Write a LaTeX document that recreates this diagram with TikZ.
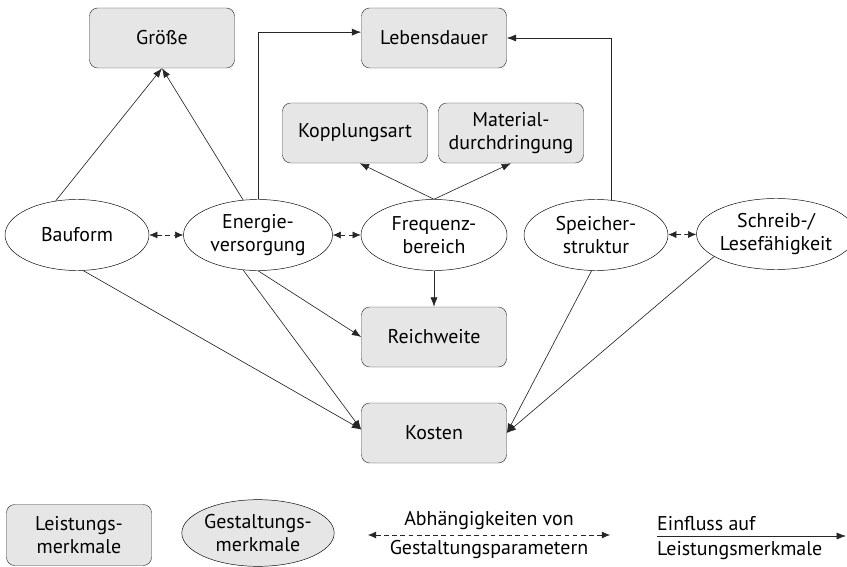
\documentclass[tikz,border=0pt]{standalone}
\usepackage{fontspec}
\setmainfont{PT Sans}
\usetikzlibrary{shapes.geometric,arrows.meta}
\definecolor{boxgray}{HTML}{E6E6E6}
\tikzset{
  merkmal/.style={draw=black!80, fill=boxgray, rounded corners=7pt, minimum width=4.35cm, minimum height=1.8cm, align=center, inner sep=0pt, font=\fontsize{17}{20}\selectfont},
  gestalt/.style={draw=black, ellipse, minimum width=4.32cm, minimum height=2.13cm, align=center, inner sep=0pt, font=\fontsize{17}{20}\selectfont},
  wirkung/.style={-{Latex[length=8pt,width=6pt]}, line width=0.55pt, black!85},
  abh/.style={{Latex[length=7pt,width=6pt]}-{Latex[length=7pt,width=6pt]}, line width=0.55pt, dash pattern=on 4pt off 3pt, black!85},
  legtext/.style={font=\fontsize{17}{20}\selectfont, inner xsep=2pt, inner ysep=4pt}
}
\begin{document}
\begin{tikzpicture}[x=0.03cm,y=-0.03cm]
\useasboundingbox (0,0) rectangle (847,567);

% Leistungsmerkmale
\node[merkmal] (groesse) at (162,38) {Größe};
\node[merkmal] (leben) at (434,38) {Lebensdauer};
\node[merkmal] (kopp) at (355,133) {Kopplungsart};
\node[merkmal] (mat) at (511,133) {Material-\\durchdringung};
\node[merkmal] (reich) at (434,337) {Reichweite};
\node[merkmal] (kosten) at (434,433) {Kosten};

% Gestaltungsmerkmale
\node[gestalt] (bau) at (77,235) {Bauform};
\node[gestalt, minimum width=4.47cm] (ener) at (258,235) {Energie-\\versorgung};
\node[gestalt, minimum width=4.38cm] (freq) at (434,235) {Frequenz-\\bereich};
\node[gestalt] (speich) at (596,235) {Speicher-\\struktur};
\node[gestalt, minimum width=4.2cm] (schreib) at (776,234) {Schreib-/\\Lesefähigkeit};

% Abhaengigkeiten
\draw[abh] (bau) -- (ener);
\draw[abh] (ener) -- (freq);
\draw[abh] (speich) -- (schreib);

% Einfluss
\draw[wirkung] (bau.122) -- (groesse.south);
\draw[wirkung] (ener.113) -- (groesse.south);
\draw[wirkung] (ener.north) |- ([yshift=5pt]leben.west);
\draw[wirkung] (speich.67) |- (leben.east);
\draw[wirkung] (freq.north) -- ([xshift=4pt]kopp.south);
\draw[wirkung] (freq.north) -- (mat.south);
\draw[wirkung] (freq.south) -- (reich.north);
\draw[wirkung] (ener.south) -- (reich.west);
\draw[wirkung] (bau.-80) -- ([yshift=3pt]kosten.west);
\draw[wirkung] (ener.-113) -- ([yshift=3pt]kosten.west);
\draw[wirkung] (speich.-97) -- (kosten.east);
\draw[wirkung] (schreib.200) -- (kosten.east);

% Legende
\node[merkmal, minimum height=1.83cm] (lgbox) at (79,535) {Leistungs-\\merkmale};
\node[gestalt, fill=boxgray, minimum width=4.41cm, minimum height=2.0cm] (lgell) at (258,533) {Gestaltungs-\\merkmale};
\coordinate (abhA) at (368,535);
\coordinate (abhB) at (610,535);
\draw[abh] (abhA) -- (abhB);
\node[legtext, above] (abhtxt) at (489,535) {Abhängigkeiten von};
\node[legtext, below] (abhtxt2) at (489,535) {Gestaltungsparametern};
\coordinate (wirkA) at (657,536);
\coordinate (wirkB) at (846,536);
\draw[wirkung] (wirkA) -- (wirkB);
\node[legtext, above right, inner xsep=0pt] (wirktxt) at (657,536) {Einfluss auf};
\node[legtext, below right, inner xsep=0pt] (wirktxt2) at (657,536) {Leistungsmerkmale};

\end{tikzpicture}
\end{document}
